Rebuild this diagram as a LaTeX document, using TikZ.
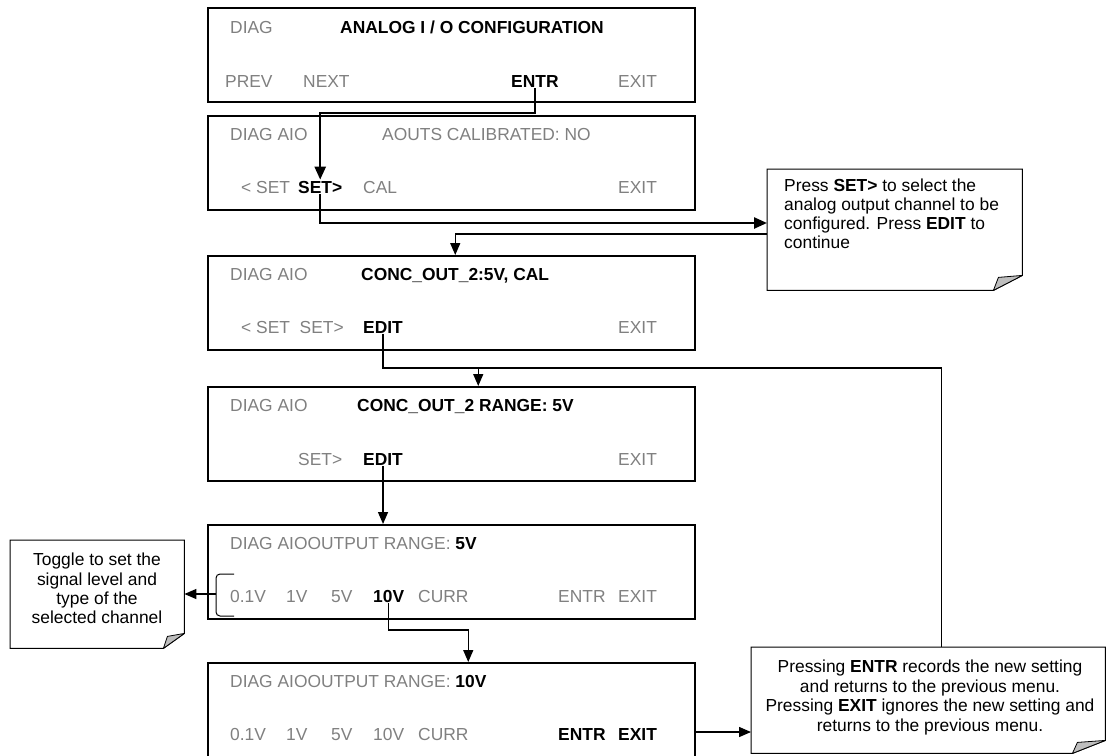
\documentclass[tikz,border=0pt]{standalone}
\usepackage{fontspec}
\setmainfont{Liberation Sans}
\usetikzlibrary{arrows.meta,calc}
\definecolor{txtgray}{RGB}{128,128,128}
\definecolor{flapgray}{RGB}{190,190,190}
\newcommand\diagfs{\fontsize{17.4}{20}\selectfont}
\begin{document}
\begin{tikzpicture}[x=1pt,y=-1pt,
  box/.style={draw, line width=1.5pt, anchor=north west, minimum width=487pt, minimum height=94pt, inner sep=0pt},
  gt/.style={text=txtgray, anchor=base west, inner sep=1pt, font=\diagfs},
  bt/.style={text=black, anchor=base west, inner sep=1pt, font=\diagfs\bfseries},
  notearea/.style={anchor=north west, inner sep=0pt},
  notetext/.style={anchor=north, inner sep=0pt, font=\diagfs},
  noteline/.style={line width=1pt},
  flap/.style={fill=flapgray, draw, line width=0.8pt, line join=round},
  thickc/.style={line width=2.4pt, -{Triangle[length=13pt,width=11pt]}},
  thinc/.style={line width=1.4pt},
  tip/.style={-{Triangle[length=12pt,width=10pt]}}
]
\useasboundingbox (0,0) rectangle (1107,755);

% ---------- boxes ----------
\node[box] (b1) at (207,7) {};
\node[box] (b2) at (207,115) {};
\node[box] (b3) at (207,255) {};
\node[box] (b4) at (207,386) {};
\node[box] (b5) at (207,524) {};
\node[box, minimum height=100pt] (b6) at (207,662) {};

% box 1
\node[gt] (b1diag) at (229,33) {DIAG};
\node[bt] (b1title) at (339,33) {ANALOG I / O CONFIGURATION};
\node[gt] (b1prev) at (224,87) {PREV};
\node[gt] (b1next) at (302,87) {NEXT};
\node[bt] (b1entr) at (510,87) {ENTR};
\node[gt] (b1exit) at (617,87) {EXIT};

% box 2
\node[gt] (b2diag) at (229,140) {DIAG AIO};
\node[gt] (b2aouts) at (381,140) {AOUTS CALIBRATED: NO};
\node[gt] (b2lset) at (240,193) {< SET};
\node[bt] (b2set) at (297,193) {SET>};
\node[gt] (b2cal) at (362,193) {CAL};
\node[gt] (b2exit) at (617,193) {EXIT};

% box 3
\node[gt] (b3diag) at (229,280) {DIAG AIO};
\node[bt] (b3title) at (360,280) {CONC\_OUT\_2:5V, CAL};
\node[gt] (b3sets) at (240,333) {< SET\ \ SET>};
\node[bt] (b3edit) at (362,333) {EDIT};
\node[gt] (b3exit) at (617,333) {EXIT};

% box 4
\node[gt] (b4diag) at (229,411) {DIAG AIO};
\node[bt] (b4title) at (356,411) {CONC\_OUT\_2 RANGE: 5V};
\node[gt] (b4set) at (297,465) {SET>};
\node[bt] (b4edit) at (362,465) {EDIT};
\node[gt] (b4exit) at (617,465) {EXIT};

% box 5
\node[gt] (b5title) at (229,549) {DIAG AIOOUTPUT RANGE: \textcolor{black}{\bfseries 5V}};
\node[gt] (b5a) at (229,602) {0.1V};
\node[gt] (b5b) at (285,602) {1V};
\node[gt] (b5c) at (330,602) {5V};
\node[bt] (b5d) at (372,602) {10V};
\node[gt] (b5e) at (417,602) {CURR};
\node[gt] (b5entr) at (557,602) {ENTR};
\node[gt] (b5exit) at (617,602) {EXIT};

% box 6
\node[gt] (b6title) at (229,687) {DIAG AIOOUTPUT RANGE: \textcolor{black}{\bfseries 10V}};
\node[gt] (b6a) at (229,740) {0.1V};
\node[gt] (b6b) at (285,740) {1V};
\node[gt] (b6c) at (330,740) {5V};
\node[gt] (b6d) at (372,740) {10V};
\node[gt] (b6e) at (417,740) {CURR};
\node[bt] (b6entr) at (557,740) {ENTR};
\node[bt] (b6exit) at (617,740) {EXIT};

% ---------- notes ----------
% note 1
\node[notearea, minimum width=255pt, minimum height=121pt] (n1) at (767,169) {};
\draw[noteline] (n1.north west) -- (n1.north east) -- ([yshift=15pt]n1.south east) -- ([xshift=-29pt]n1.south east) -- (n1.south west) -- cycle;
\draw[flap] ([yshift=15pt]n1.south east) -- ([xshift=-29pt]n1.south east) -- ([xshift=-24pt,yshift=13pt]n1.south east) -- cycle;
\node[notetext, anchor=north west, align=left, font=\fontsize{17.4}{18.8}\selectfont] (n1t) at (784,179)
  {Press \textbf{SET>} to select the\\analog output channel to be\\configured. Press \textbf{EDIT} to\\continue};

% note 2
\node[notearea, minimum width=354pt, minimum height=106pt] (n2) at (751,647) {};
\draw[noteline] (n2.north west) -- (n2.north east) -- ([yshift=13pt]n2.south east) -- ([xshift=-33pt]n2.south east) -- (n2.south west) -- cycle;
\draw[flap] ([yshift=13pt]n2.south east) -- ([xshift=-33pt]n2.south east) -- ([xshift=-28pt,yshift=11pt]n2.south east) -- cycle;
\node[notetext, align=center, font=\fontsize{17.4}{19.5}\selectfont] (n2t) at (930,660)
  {Pressing \textbf{ENTR} records the new setting\\and returns to the previous menu.\\Pressing \textbf{EXIT} ignores the new setting and\\returns to the previous menu.};

% note 3
\node[notearea, minimum width=174pt, minimum height=108pt] (n3) at (10,540) {};
\draw[noteline] (n3.north west) -- (n3.north east) -- ([yshift=15pt]n3.south east) -- ([xshift=-21pt]n3.south east) -- (n3.south west) -- cycle;
\draw[flap] ([yshift=15pt]n3.south east) -- ([xshift=-21pt]n3.south east) -- ([xshift=-17pt,yshift=12pt]n3.south east) -- cycle;
\node[notetext, align=center, font=\fontsize{17.4}{19.2}\selectfont] (n3t) at (97,553)
  {Toggle to set the\\signal level and\\type of the\\selected channel};

% ---------- connectors ----------
\coordinate (h113) at (0,113);
\coordinate (h223) at (0,223);
\coordinate (h234) at (0,234);
\coordinate (h368) at (0,368);
\coordinate (h630) at (0,630);
\coordinate (h732) at (0,732);
\coordinate (b3in) at ([xshift=4pt]b3.north);
\coordinate (b4in) at ([xshift=27pt]b4.north);
\coordinate (b6in) at ([xshift=17pt]b6.north);
\coordinate (n2in) at ([xshift=13pt]n2.north);
\coordinate (brk) at (216,594);

\draw[thickc] (b1entr.south) -- (b1entr.south |- h113) -| (b2set.north);
\draw[thickc] (b2set.south) |- (n1.west |- h223);
\draw[thinc, tip] (n1.west |- h234) -| (b3in);
\draw[thinc] (b3edit.south) |- (n2in |- h368) -- (n2in);
\draw[thinc, tip] (b4in |- h368) -- (b4in);
\draw[thinc, tip] (b4edit.south) -- (b4edit.south |- b5.north);
\draw[thinc, tip] (b5d.south) |- (b6in |- h630) -- (b6in);
\draw[thinc, tip] (b6.east |- h732) -- (n2.west |- h732);

% bracket and its arrow
\draw[line width=1pt, rounded corners=4pt] (234,574) -- (216,574) -- (216,616) -- (234,616);
\draw[thinc, tip] (brk) -- (n3.east |- brk);

\end{tikzpicture}
\end{document}
